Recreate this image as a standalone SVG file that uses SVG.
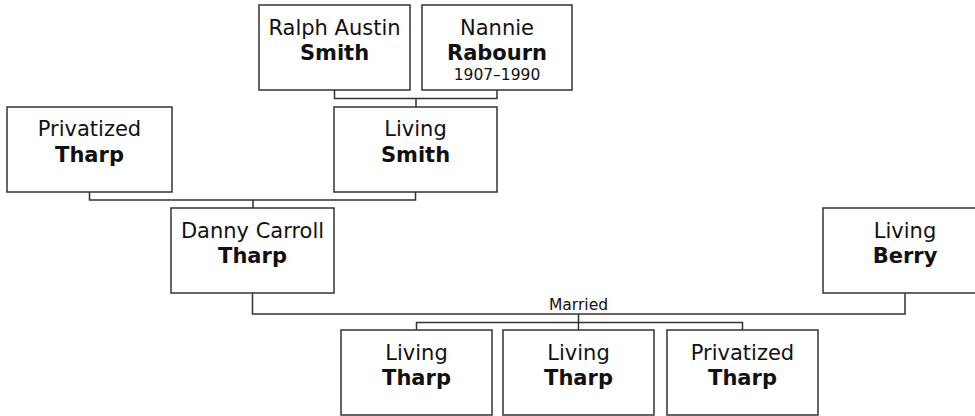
<svg xmlns="http://www.w3.org/2000/svg" width="975" height="416" viewBox="0 0 975 416">
<style>
.box{fill:#fff;stroke:#333;stroke-width:1.5}
.t{font-family:"DejaVu Sans",Verdana,sans-serif;font-size:21px;fill:#111;text-anchor:middle}
.b{font-weight:bold}
.s{font-family:"DejaVu Sans",Verdana,sans-serif;font-size:15.5px;fill:#111;text-anchor:middle}
.c{fill:none;stroke:#333;stroke-width:1.5}
</style>
<rect width="975" height="416" fill="#fff"/>
<g id="connectors">
<path class="c" d="M334.5 90 V98.5 H497 V90 M416 98.5 V107"/>
<path class="c" d="M89.5 192 V200 H415.5 V192 M253 200 V208"/>
<path class="c" d="M252.5 293 V314 H905 V293"/>
<path class="c" d="M578.5 314 V322.5 M416.5 330 V322.5 H742.5 V330 M578.5 322.5 V330"/>
</g>
<g id="ralph">
<rect class="box" x="259" y="5" width="151" height="85"/>
<text class="t" x="334.5" y="35">Ralph Austin</text>
<text class="t b" x="334.5" y="59.5">Smith</text>
</g>
<g id="nannie">
<rect class="box" x="422" y="5" width="150" height="85"/>
<text class="t" x="497" y="35">Nannie</text>
<text class="t b" x="497" y="59.5">Rabourn</text>
<text class="s" x="497" y="80">1907–1990</text>
</g>
<g id="privatized-tharp-1">
<rect class="box" x="7" y="107" width="165" height="85"/>
<text class="t" x="89.5" y="136">Privatized</text>
<text class="t b" x="89.5" y="161.5">Tharp</text>
</g>
<g id="living-smith">
<rect class="box" x="334" y="107" width="163" height="85"/>
<text class="t" x="415.5" y="136">Living</text>
<text class="t b" x="415.5" y="161.5">Smith</text>
</g>
<g id="danny">
<rect class="box" x="171" y="208" width="163" height="85"/>
<text class="t" x="252.5" y="237.5">Danny Carroll</text>
<text class="t b" x="252.5" y="263">Tharp</text>
</g>
<g id="living-berry">
<rect class="box" x="823" y="208" width="164" height="85"/>
<text class="t" x="905" y="237.5">Living</text>
<text class="t b" x="905" y="263">Berry</text>
</g>
<text class="s" x="578.5" y="310">Married</text>
<g id="child-1">
<rect class="box" x="341" y="330" width="151" height="85"/>
<text class="t" x="416.5" y="360">Living</text>
<text class="t b" x="416.5" y="385">Tharp</text>
</g>
<g id="child-2">
<rect class="box" x="503" y="330" width="151" height="85"/>
<text class="t" x="578.5" y="360">Living</text>
<text class="t b" x="578.5" y="385">Tharp</text>
</g>
<g id="child-3">
<rect class="box" x="667" y="330" width="151" height="85"/>
<text class="t" x="742.5" y="360">Privatized</text>
<text class="t b" x="742.5" y="385">Tharp</text>
</g>
</svg>
